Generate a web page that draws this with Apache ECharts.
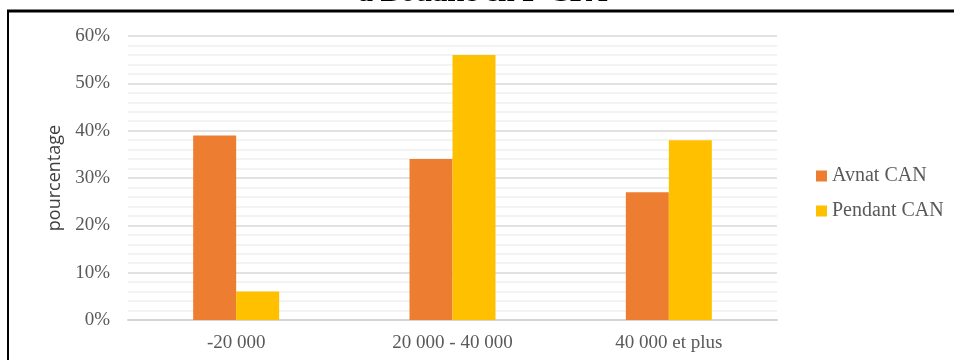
<!DOCTYPE html>
<html>
<head>
<meta charset="utf-8">
<script src="https://cdn.jsdelivr.net/npm/echarts@6/dist/echarts.min.js"></script>
<style>
  html, body { margin: 0; padding: 0; background: #ffffff; }
  #chart { width: 954px; height: 360px; }
</style>
</head>
<body>
<div id="chart"></div>
<script>
// Income brackets (F CFA) and share of respondents, before and during the CAN
const categories = ['-20 000', '20 000 - 40 000', '40 000 et plus'];
const avantCAN = [39, 34, 27];
const pendantCAN = [6, 56, 38];
const seriesNames = ['Avnat CAN', 'Pendant CAN'];
const yTicks = [0, 10, 20, 30, 40, 50, 60];
const titleLine = 'à Bouaké en F CFA';
const yAxisName = 'pourcentage';

const chart = echarts.init(document.getElementById('chart'), null, { renderer: 'canvas' });

const serif = '"Liberation Serif", "Times New Roman", serif';

chart.setOption({
  animation: false,
  backgroundColor: '#ffffff',
  graphic: [
    {
      // last line of the figure caption, running off the top edge
      type: 'text',
      left: 358,
      top: -22,
      style: {
        text: titleLine,
        font: 'bold 30px ' + serif,
        fill: '#000000'
      }
    },
    {
      type: 'line',
      shape: { x1: 7, y1: 11, x2: 954, y2: 11 },
      style: { stroke: '#000000', lineWidth: 3 }
    },
    {
      type: 'line',
      shape: { x1: 8, y1: 10, x2: 8, y2: 360 },
      style: { stroke: '#000000', lineWidth: 2 }
    }
  ],
  legend: {
    orient: 'vertical',
    left: 811,
    top: 161,
    icon: 'rect',
    itemWidth: 11,
    itemHeight: 11,
    itemGap: 15,
    selectedMode: false,
    textStyle: {
      fontFamily: serif,
      fontSize: 20,
      color: '#595959',
      lineHeight: 20
    },
    data: seriesNames
  },
  grid: {
    left: 128,
    right: 177,
    top: 36,
    bottom: 40,
    containLabel: false
  },
  xAxis: {
    type: 'category',
    data: categories,
    axisLine: { show: true, lineStyle: { color: '#d4d4d4', width: 2 } },
    axisTick: { show: false },
    axisLabel: {
      fontFamily: serif,
      fontSize: 19,
      color: '#595959',
      margin: 14
    }
  },
  yAxis: {
    type: 'value',
    min: yTicks[0],
    max: yTicks[yTicks.length - 1],
    interval: 10,
    name: yAxisName,
    nameLocation: 'middle',
    nameGap: 63,
    nameRotate: 90,
    nameTextStyle: {
      fontFamily: '"Open Sans", "Noto Sans", sans-serif',
      fontSize: 18,
      color: '#404040'
    },
    axisLine: { show: false },
    axisTick: { show: false },
    axisLabel: {
      fontFamily: serif,
      fontSize: 19,
      color: '#595959',
      margin: 18,
      formatter: v => v + '%'
    },
    splitLine: { show: true, lineStyle: { color: '#d9d9d9', width: 1.5 } },
    minorTick: { show: false, splitNumber: 5 },
    minorSplitLine: { show: true, lineStyle: { color: '#efefef', width: 1.5 } }
  },
  series: [
    {
      name: seriesNames[0],
      type: 'bar',
      data: avantCAN,
      barWidth: 43,
      barGap: '0%',
      itemStyle: { color: '#ED7D31' }
    },
    {
      name: seriesNames[1],
      type: 'bar',
      data: pendantCAN,
      barWidth: 43,
      barGap: '0%',
      itemStyle: { color: '#FFC000' }
    }
  ]
});
</script>
</body>
</html>
